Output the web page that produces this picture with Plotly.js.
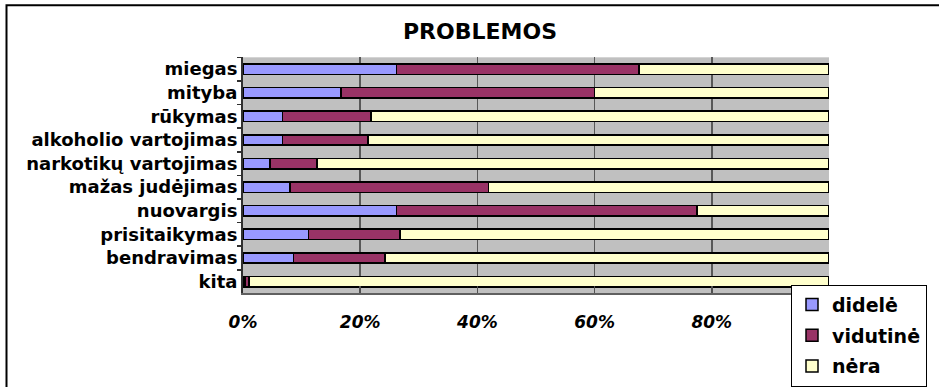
<!DOCTYPE html>
<html>
<head>
<meta charset="utf-8">
<script src="https://cdn.plot.ly/plotly-3.0.1.min.js"></script>
<style>html,body{margin:0;padding:0;background:#fff;}#chart{width:939px;height:387px;}</style>
</head>
<body>
<div id="chart"></div>
<script>
const categories = ["miegas","mityba","rūkymas","alkoholio vartojimas","narkotikų vartojimas","mažas judėjimas","nuovargis","prisitaikymas","bendravimas","kita"];
const didele   = [26.2, 16.7, 6.7, 6.7, 4.6, 8.0, 26.2, 11.2, 8.6, 0.3];
const vidutine = [41.4, 43.3, 15.1, 14.6, 8.0, 33.9, 51.3, 15.6, 15.6, 0.7];
const nera     = [32.4, 40.0, 78.2, 78.7, 87.4, 58.1, 22.5, 73.2, 75.8, 99.0];
const seriesNames = ["didelė","vidutinė","nėra"];
const seriesColors = ["#9999ff","#993366","#ffffcc"];
const tickVals = [0, 20, 40, 60, 80];
const tickText = ["0%","20%","40%","60%","80%"];

const W = 939, H = 387;
const px = v => v / W;
const py = v => 1 - v / H;

const seriesData = [didele, vidutine, nera];
const traces = seriesData.map((vals, i) => ({
  type: "bar",
  orientation: "h",
  name: seriesNames[i],
  x: vals,
  y: categories,
  legendgroup: "g" + i,
  marker: {color: seriesColors[i], line: {color: "#000000", width: 1.5}},
  hoverinfo: "x+y+name"
}));

const layout = {
  width: W, height: H,
  margin: {l: 0, r: 0, t: 0, b: 0},
  paper_bgcolor: "#ffffff",
  plot_bgcolor: "#c0c0c0",
  barmode: "stack",
  bargap: 0.56,
  title: {
    text: "PROBLEMOS",
    x: px(480), xanchor: "center", xref: "paper",
    y: py(32), yanchor: "middle", yref: "paper",
    font: {family: "DejaVu Sans", size: 22, weight: "bold", color: "#000000"}
  },
  xaxis: {
    domain: [px(243), px(829)],
    range: [0, 100],
    tickvals: tickVals,
    ticktext: tickText,
    showgrid: true,
    gridcolor: "#585858",
    gridwidth: 1.5,
    zeroline: false,
    showline: true,
    linecolor: "#606060",
    linewidth: 2,
    ticks: "inside",
    ticklen: 7,
    tickcolor: "#505050",
    tickwidth: 1.5,
    ticklabelstandoff: 12,
    tickfont: {family: "DejaVu Sans", size: 17, weight: "bold", style: "italic", color: "#000000"},
    fixedrange: true
  },
  yaxis: {
    domain: [py(302), py(59)],
    type: "category",
    autorange: "reversed",
    showgrid: false,
    zeroline: false,
    showline: true,
    linecolor: "#303030",
    linewidth: 2,
    ticks: "outside",
    tickson: "boundaries",
    ticklen: 4,
    tickcolor: "#303030",
    tickwidth: 1.5,
    tickfont: {family: "DejaVu Sans", size: 18, weight: "bold", color: "#000000"},
    fixedrange: true
  },
  legend: {
    x: px(791), xanchor: "left",
    y: py(293), yanchor: "top",
    bgcolor: "#ffffff",
    bordercolor: "#000000",
    borderwidth: 1,
    traceorder: "grouped",
    tracegroupgap: 3,
    font: {family: "DejaVu Sans", size: 19, weight: "bold", color: "#000000"}
  },
  shapes: [{
    type: "rect", xref: "paper", yref: "paper",
    x0: px(6.5), y0: py(5.5), x1: 1.05, y1: -0.05,
    line: {color: "#000000", width: 2},
    fillcolor: "rgba(0,0,0,0)",
    layer: "below"
  }],
  showlegend: true
};

Plotly.newPlot("chart", traces, layout, {displayModeBar: false, staticPlot: true});
</script>
</body>
</html>
